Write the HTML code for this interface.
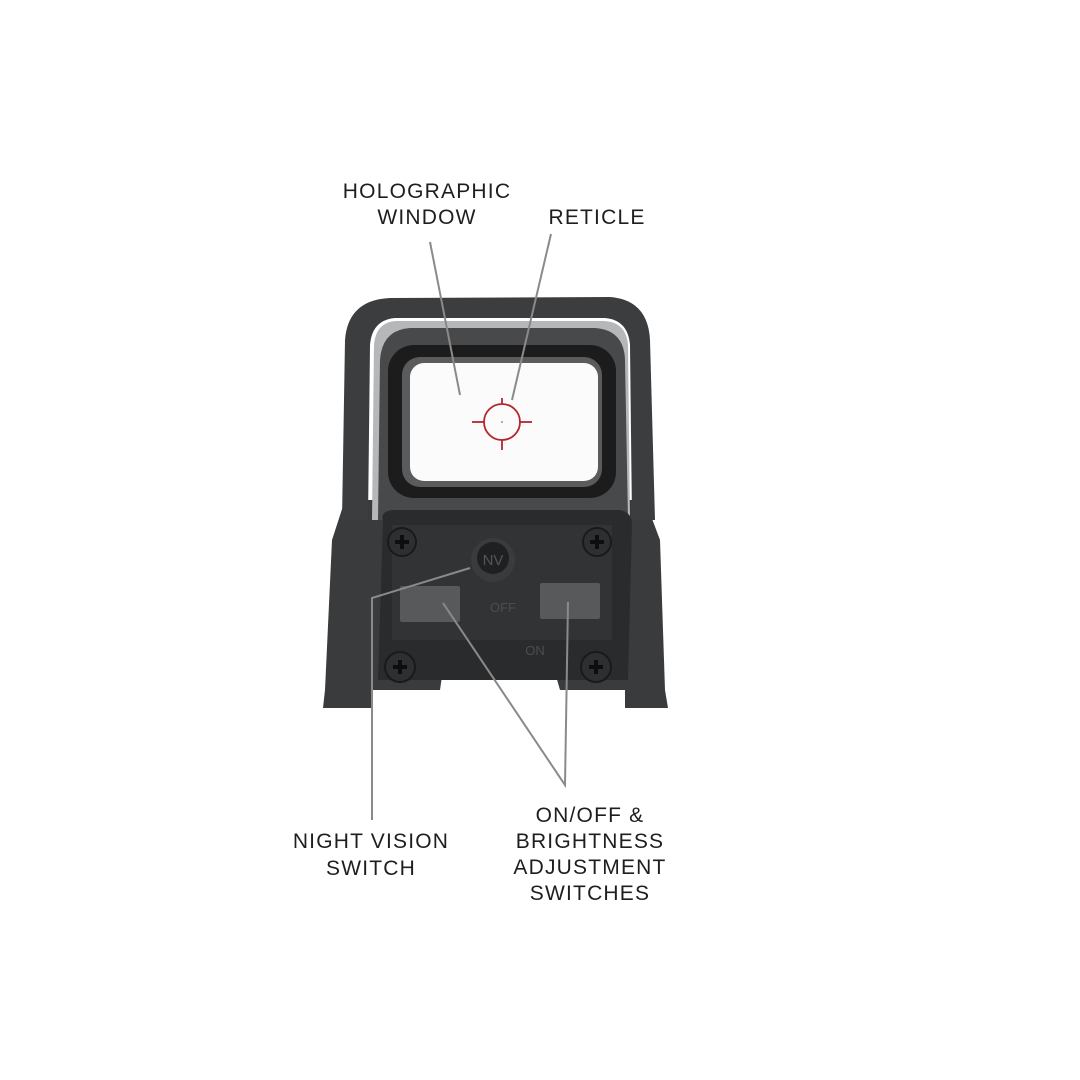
<!DOCTYPE html>
<html><head><meta charset="utf-8"><style>
html,body{margin:0;padding:0;background:#fff}
svg{display:block}
text{font-family:"Liberation Sans",sans-serif;font-size:21px;fill:#1e1e1e;text-anchor:middle;letter-spacing:1.2px}
</style></head><body>
<svg width="1080" height="1080" viewBox="0 0 1080 1080" xmlns="http://www.w3.org/2000/svg">
<rect width="1080" height="1080" fill="#fff"/>
<path d="M345 500 L332 540 L325 690 L323 708 L372 708 L372 690 L440 690 L442 676 L556 676 L560 690 L625 690 L625 708 L668 708 L665 690 L660 540 L645 500 Z" fill="#3a3b3d"/>
<path d="M342 520 L345 340 Q348 300 390 298 L610 297 Q648 300 650 340 L655 520 L632 520 L630 345 Q628 320 605 318 L395 318 Q372 320 370 345 L368 520 Z" fill="#3c3d3f"/>
<path d="M372 520 L374 345 Q376 322 396 321 L604 321 Q626 322 628 345 L630 520 Z" fill="#b5b7b9"/>
<path d="M378 520 L380 360 Q382 330 410 328 L595 328 Q624 330 625 360 L628 520 Z" fill="#48494b"/>
<rect x="388" y="345" width="228" height="153" rx="26" fill="#1c1c1d"/>
<rect x="402" y="357" width="200" height="130" rx="18" fill="#5a5b5d"/>
<rect x="410" y="363" width="188" height="118" rx="14" fill="#fbfbfb"/>
<g stroke="#b3262d" stroke-width="1.8" fill="none">
<circle cx="502" cy="422" r="18"/>
<line x1="502" y1="398" x2="502" y2="404"/><line x1="502" y1="440" x2="502" y2="450"/>
<line x1="472" y1="422" x2="484" y2="422"/><line x1="520" y1="422" x2="532" y2="422"/>
</g>
<circle cx="502" cy="422" r="0.8" fill="#b3262d"/>
<path d="M383 520 Q380 512 392 510 L620 510 Q632 512 632 525 L628 680 L378 680 Z" fill="#2a2b2d"/>
<path d="M392 525 L612 525 L612 640 L392 640 Z" fill="#323335"/>
<g fill="#2e2f31" stroke="#1a1a1b" stroke-width="2">
<circle cx="402" cy="542" r="14"/><circle cx="597" cy="542" r="14"/>
<circle cx="400" cy="667" r="15"/><circle cx="596" cy="667" r="15"/>
</g>
<g stroke="#0e0e0e" stroke-width="4">
<path d="M395 542h14M402 535v14M590 542h14M597 535v14M393 667h14M400 660v14M589 667h14M596 660v14"/>
</g>
<circle cx="493" cy="560" r="22" fill="#3a3b3d"/>
<circle cx="493" cy="558" r="16" fill="#1f2021"/>
<text x="493" y="565" style="font-size:15px;fill:#555;letter-spacing:0">NV</text>
<rect x="400" y="586" width="60" height="36" rx="2" fill="#58595b"/>
<rect x="540" y="583" width="60" height="36" rx="2" fill="#58595b"/>
<text x="503" y="612" style="font-size:13px;fill:#4c4d4f;letter-spacing:0">OFF</text>
<text x="535" y="655" style="font-size:13px;fill:#4c4d4f;letter-spacing:0">ON</text>
<g stroke="#8a8a8a" stroke-width="2" fill="none">
<path d="M430 242 L460 395"/>
<path d="M551 234 L512 400"/>
<path d="M372 820 L372 598 L470 568"/>
<path d="M443 603 L565 785 L568 602"/>
</g>
<text x="427" y="198">HOLOGRAPHIC</text>
<text x="427" y="224">WINDOW</text>
<text x="597" y="224">RETICLE</text>
<text x="371" y="848">NIGHT VISION</text>
<text x="371" y="875">SWITCH</text>
<text x="590" y="822">ON/OFF &amp;</text>
<text x="590" y="848">BRIGHTNESS</text>
<text x="590" y="874">ADJUSTMENT</text>
<text x="590" y="900">SWITCHES</text>
</svg>
</body></html>
